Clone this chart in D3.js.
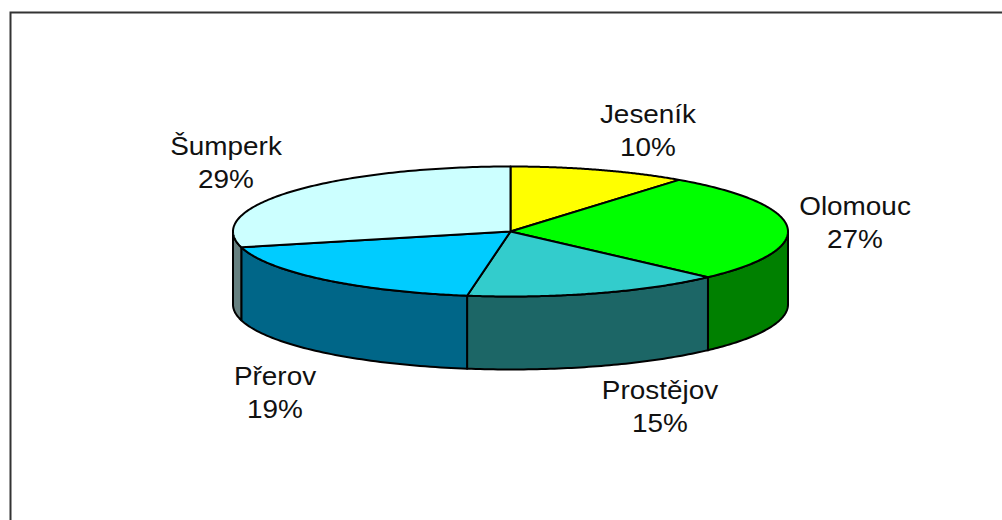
<!DOCTYPE html>
<html><head><meta charset="utf-8">
<script src="https://cdn.jsdelivr.net/npm/d3@7/dist/d3.min.js"></script>
<style>html,body{margin:0;padding:0;background:#fff}svg{display:block}</style>
</head><body><svg id="c" width="1002" height="520"></svg>
<script>
const categories = ["Jeseník","Olomouc","Prostějov","Přerov","Šumperk"];
const values = [10.4,27.0,15.1,18.6,28.9];
const topColors = ["#ffff00","#00ff00","#33cccc","#00ccff","#ccffff"];
const sideColors = ["#808000","#008000","#1c6666","#006688","#668080"];
const labelPos = [[648,114],[855,206],[660,390],[275,376],[226,146]];

const W=1002,H=520,cx=510.5,cy=231.5,rx=277.5,ry=65,depth=73;
const svg=d3.select("#c");
svg.append("path").attr("d",d3.line()([[10.5,520],[10.5,12.5],[1002,12.5]])).attr("fill","none").attr("stroke","#333").attr("stroke-width",2);

const arcs=d3.pie().sort(null).value(d=>d)(values);
const ex=a=>cx+rx*Math.sin(a), ey=a=>cy-ry*Math.cos(a);
const g=svg.append("g");
const PI=Math.PI;
function styl(s){return s.attr("stroke","#000").attr("stroke-width",2).attr("stroke-linejoin","round");}
// side walls: visible where the rim faces the viewer
arcs.forEach((d,i)=>{
  const a0=Math.max(d.startAngle,PI/2),a1=Math.min(d.endAngle,3*PI/2);
  if(a1<=a0) return;
  const ts=d3.range(0,61).map(k=>a0+(a1-a0)*k/60);
  const pts=ts.map(a=>[ex(a),ey(a)]).concat(ts.slice().reverse().map(a=>[ex(a),ey(a)+depth]));
  styl(g.append("path").attr("d",d3.line().curve(d3.curveLinearClosed)(pts)).attr("fill",sideColors[i]));
});
// top slices
arcs.forEach((d,i)=>{
  const ts=d3.range(0,121).map(k=>d.startAngle+(d.endAngle-d.startAngle)*k/120);
  const pts=[[cx,cy]].concat(ts.map(a=>[ex(a),ey(a)]));
  styl(g.append("path").attr("d",d3.line().curve(d3.curveLinearClosed)(pts)).attr("fill",topColors[i]));
});
// labels: the reference type is slightly wider than tall
categories.forEach((c,i)=>{
  const t=svg.append("text").attr("text-anchor","middle").attr("font-family","Liberation Sans, Arial, sans-serif").attr("font-size",25.5).attr("fill","#111")
    .attr("transform",`translate(${labelPos[i][0]},0) scale(1.095,1)`);
  t.append("tspan").attr("x",0).attr("y",labelPos[i][1]+9).text(c);
  t.append("tspan").attr("x",0).attr("y",labelPos[i][1]+42).text(d3.format(".0%")(values[i]/d3.sum(values)));
});
</script></body></html>
